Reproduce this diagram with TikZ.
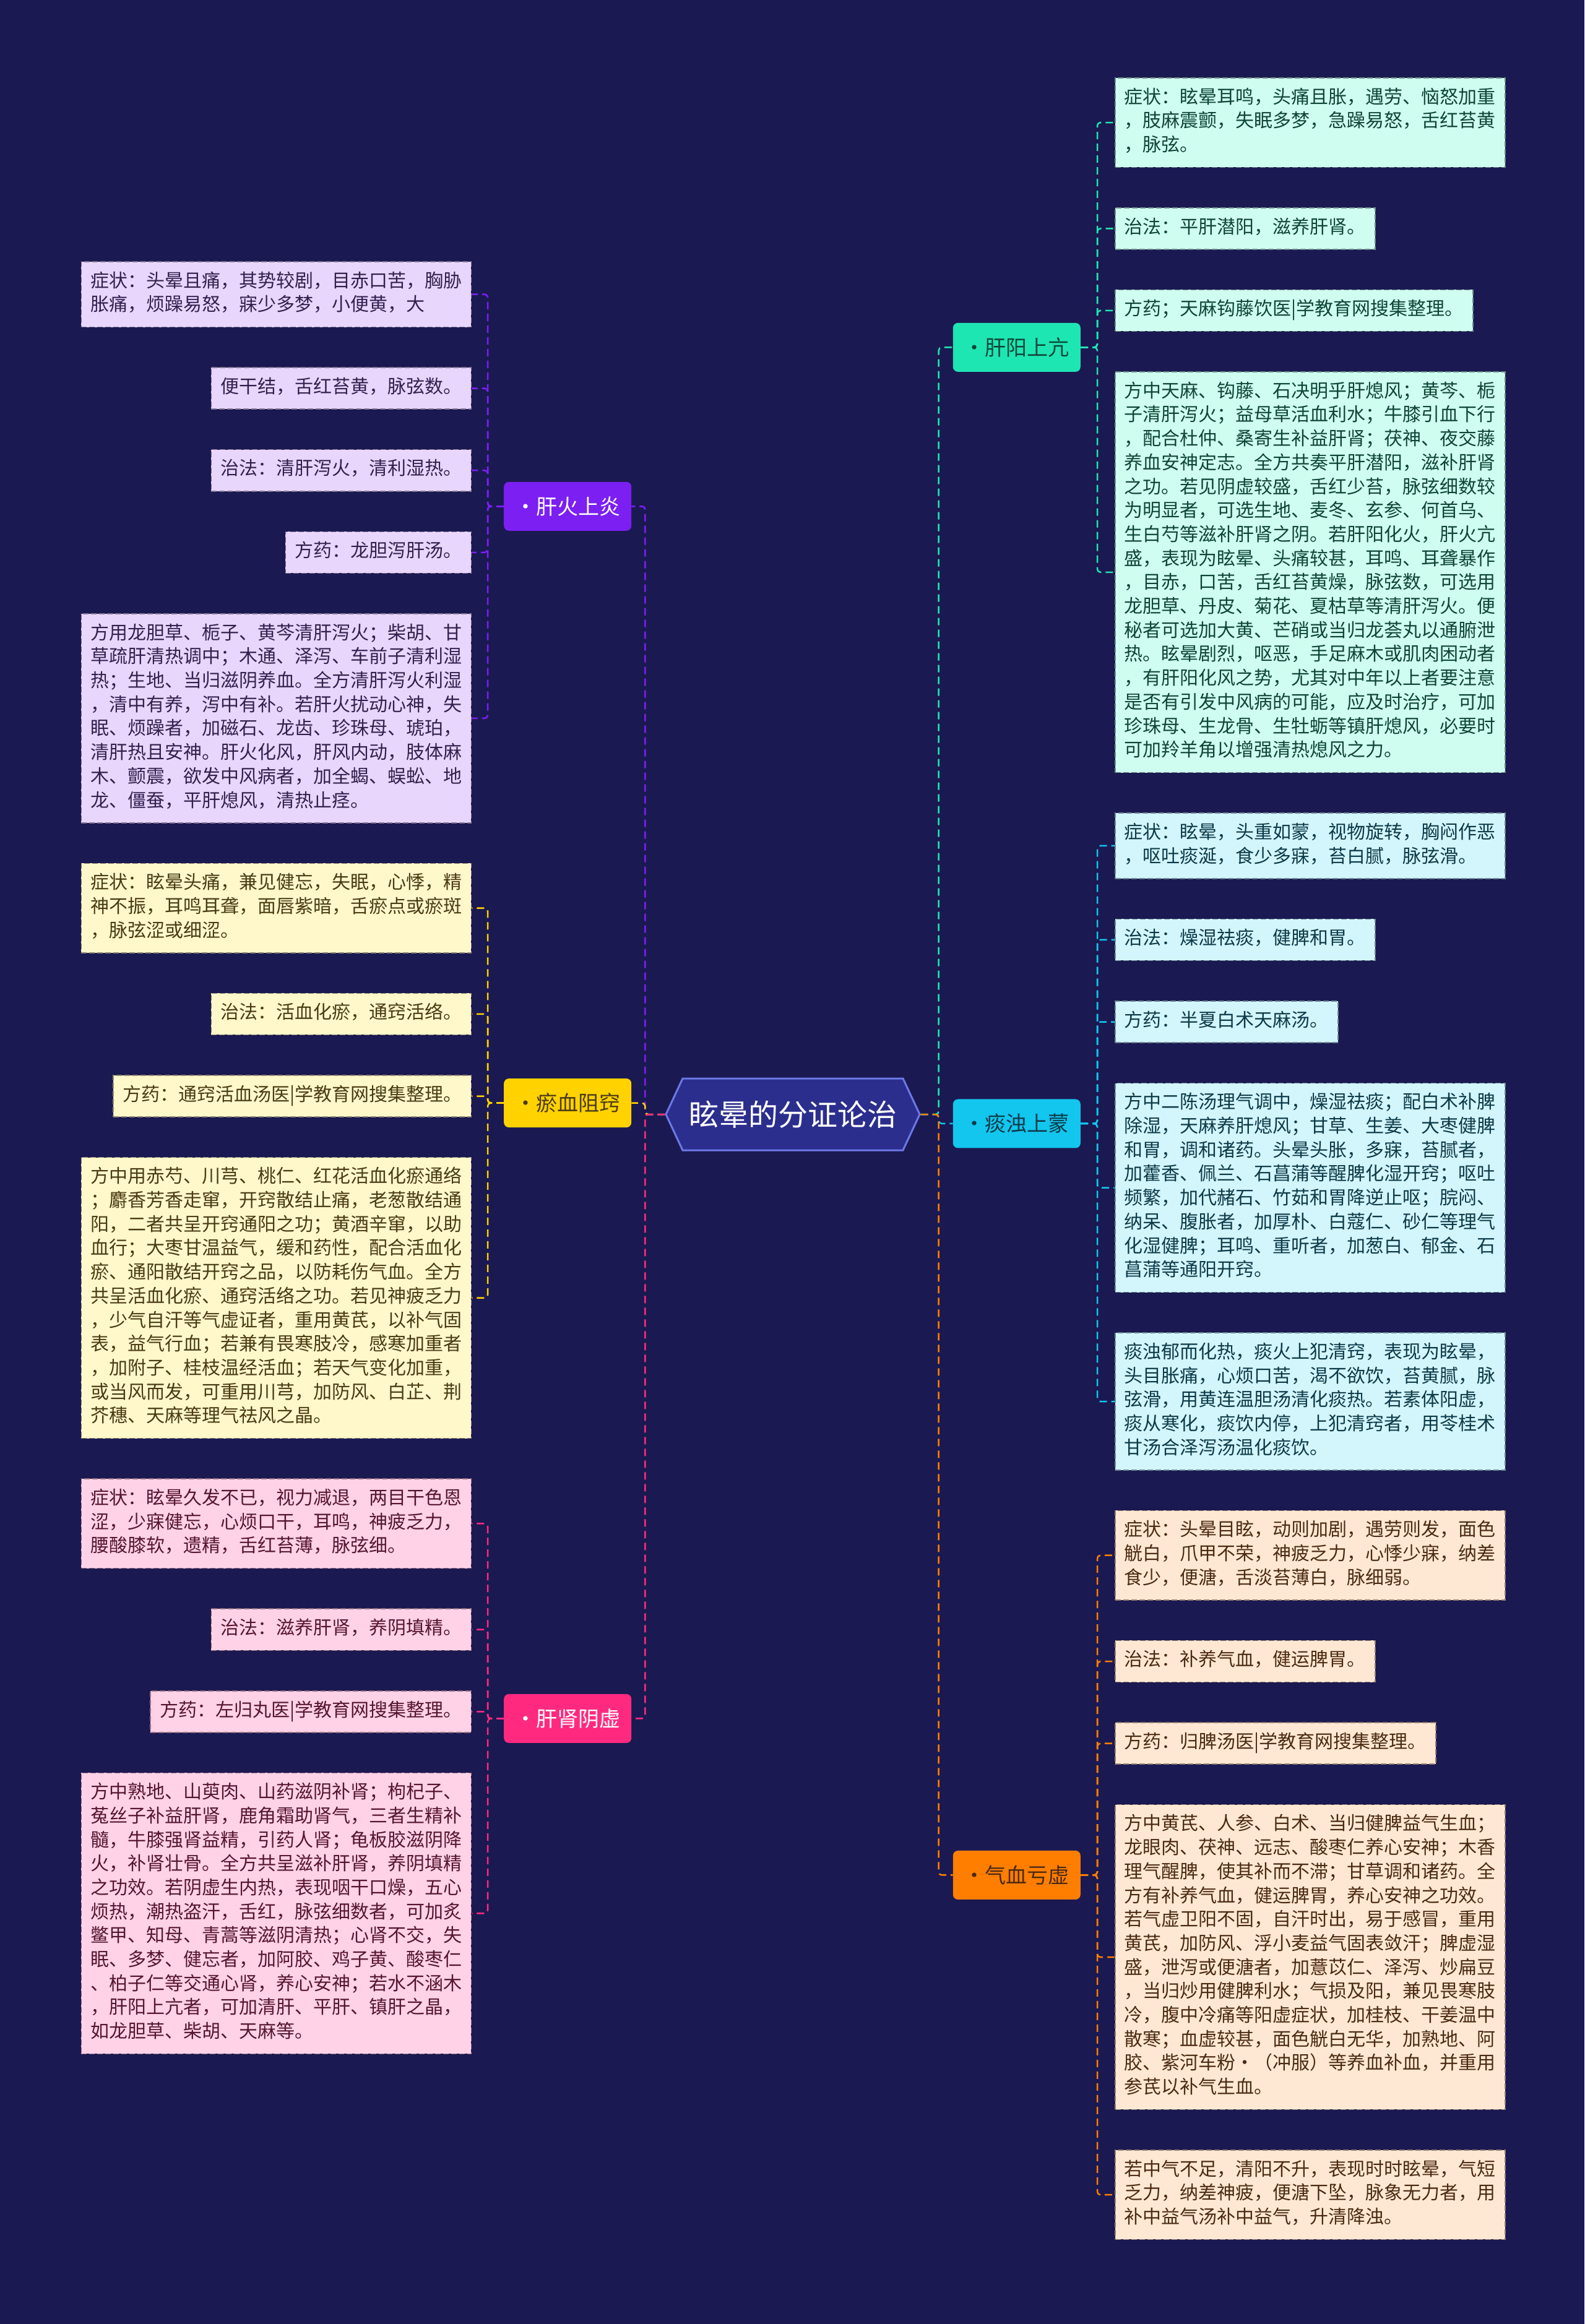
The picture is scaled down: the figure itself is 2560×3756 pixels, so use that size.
\documentclass[tikz,border=0pt]{standalone}
\usepackage{fontspec}
\setmainfont{Noto Sans CJK SC}
\usetikzlibrary{positioning,calc,shapes.symbols}

\definecolor{night}{HTML}{1B1952}
\definecolor{hubfill}{HTML}{2C2E8E}
\definecolor{hubline}{HTML}{6C79E6}
\definecolor{fireC}{HTML}{7B1FF2}
\definecolor{fireL}{HTML}{E8D6FC}
\definecolor{fireT}{HTML}{33204F}
\definecolor{bloodC}{HTML}{FFD200}
\definecolor{bloodL}{HTML}{FFF8CB}
\definecolor{bloodT}{HTML}{4A3B12}
\definecolor{yinC}{HTML}{FF2A80}
\definecolor{yinL}{HTML}{FFD2E7}
\definecolor{yinT}{HTML}{561530}
\definecolor{yangC}{HTML}{1EE6B3}
\definecolor{yangL}{HTML}{CFFEF0}
\definecolor{yangT}{HTML}{0E4536}
\definecolor{mistC}{HTML}{12C6EE}
\definecolor{mistL}{HTML}{D3F5FC}
\definecolor{mistT}{HTML}{0C3A48}
\definecolor{qiC}{HTML}{FF7E00}
\definecolor{qiL}{HTML}{FFE8D3}
\definecolor{qiT}{HTML}{4B2A12}

\newcommand{\cardtext}[1]{\strut#1\strut}

\begin{document}
\begin{tikzpicture}[x=1pt,y=1pt,
  card/.style={draw, line width=1.5pt, dash pattern=on 9pt off 4pt,
    align=left, inner xsep=15pt, inner ysep=14.2pt,
    font=\fontsize{30}{38.7}\selectfont},
  fireCard/.style={card, draw=fireT!60, fill=fireL, text=fireT},
  bloodCard/.style={card, draw=bloodT!60, fill=bloodL, text=bloodT},
  yinCard/.style={card, draw=yinT!60, fill=yinL, text=yinT},
  yangCard/.style={card, draw=yangT!60, fill=yangL, text=yangT},
  mistCard/.style={card, draw=mistT!60, fill=mistL, text=mistT},
  qiCard/.style={card, draw=qiT!60, fill=qiL, text=qiT},
  lnext/.style={below=64pt of #1.south east, anchor=north east},
  rnext/.style={below=64pt of #1.south west, anchor=north west},
  topic/.style={rounded corners=8pt, minimum width=206pt, minimum height=79pt,
    inner sep=0pt, font=\fontsize{34}{40}\selectfont},
  hub/.style={signal, signal to=west and east, signal pointer angle=130,
    draw=hubline, line width=3pt, fill=hubfill, text=white,
    minimum height=116pt, inner xsep=10pt, font=\fontsize{48}{56}\selectfont},
  lnk/.style={line width=2.5pt, dash pattern=on 12pt off 7pt, rounded corners=5pt}]

  \path[use as bounding box, fill=night] (0,0) rectangle (2560,-3756);

  \node[hub] (hub) at (1281,-1801) {眩晕的分证论治};

  % left column
  \node[fireCard, anchor=north east] (f1) at (762,-422) {\cardtext{症状：头晕且痛，其势较剧，目赤口苦，胸胁\\胀痛，烦躁易怒，寐少多梦，小便黄，大}};
  \node[fireCard, lnext=f1] (f2) {\cardtext{便干结，舌红苔黄，脉弦数。}};
  \node[fireCard, lnext=f2] (f3) {\cardtext{治法：清肝泻火，清利湿热。}};
  \node[fireCard, lnext=f3] (f4) {\cardtext{方药：龙胆泻肝汤。}};
  \node[fireCard, lnext=f4] (f5) {\cardtext{方用龙胆草、栀子、黄芩清肝泻火；柴胡、甘\\草疏肝清热调中；木通、泽泻、车前子清利湿\\热；生地、当归滋阴养血。全方清肝泻火利湿\\，清中有养，泻中有补。若肝火扰动心神，失\\眠、烦躁者，加磁石、龙齿、珍珠母、琥珀，\\清肝热且安神。肝火化风，肝风内动，肢体麻\\木、颤震，欲发中风病者，加全蝎、蜈蚣、地\\龙、僵蚕，平肝熄风，清热止痉。}};

  \node[bloodCard, lnext=f5] (b1) {\cardtext{症状：眩晕头痛，兼见健忘，失眠，心悸，精\\神不振，耳鸣耳聋，面唇紫暗，舌瘀点或瘀斑\\，脉弦涩或细涩。}};
  \node[bloodCard, lnext=b1] (b2) {\cardtext{治法：活血化瘀，通窍活络。}};
  \node[bloodCard, lnext=b2] (b3) {\cardtext{方药：通窍活血汤医|学教育网搜集整理。}};
  \node[bloodCard, lnext=b3] (b4) {\cardtext{方中用赤芍、川芎、桃仁、红花活血化瘀通络\\；麝香芳香走窜，开窍散结止痛，老葱散结通\\阳，二者共呈开窍通阳之功；黄酒辛窜，以助\\血行；大枣甘温益气，缓和药性，配合活血化\\瘀、通阳散结开窍之品，以防耗伤气血。全方\\共呈活血化瘀、通窍活络之功。若见神疲乏力\\，少气自汗等气虚证者，重用黄芪，以补气固\\表，益气行血；若兼有畏寒肢冷，感寒加重者\\，加附子、桂枝温经活血；若天气变化加重，\\或当风而发，可重用川芎，加防风、白芷、荆\\芥穗、天麻等理气祛风之晶。}};

  \node[yinCard, lnext=b4] (s1) {\cardtext{症状：眩晕久发不已，视力减退，两目干色恩\\涩，少寐健忘，心烦口干，耳鸣，神疲乏力，\\腰酸膝软，遗精，舌红苔薄，脉弦细。}};
  \node[yinCard, lnext=s1] (s2) {\cardtext{治法：滋养肝肾，养阴填精。}};
  \node[yinCard, lnext=s2] (s3) {\cardtext{方药：左归丸医|学教育网搜集整理。}};
  \node[yinCard, lnext=s3] (s4) {\cardtext{方中熟地、山萸肉、山药滋阴补肾；枸杞子、\\菟丝子补益肝肾，鹿角霜助肾气，三者生精补\\髓，牛膝强肾益精，引药人肾；龟板胶滋阴降\\火，补肾壮骨。全方共呈滋补肝肾，养阴填精\\之功效。若阴虚生内热，表现咽干口燥，五心\\烦热，潮热盗汗，舌红，脉弦细数者，可加炙\\鳖甲、知母、青蒿等滋阴清热；心肾不交，失\\眠、多梦、健忘者，加阿胶、鸡子黄、酸枣仁\\、柏子仁等交通心肾，养心安神；若水不涵木\\，肝阳上亢者，可加清肝、平肝、镇肝之晶，\\如龙胆草、柴胡、天麻等。}};

  % right column
  \node[yangCard, anchor=north west] (a1) at (1801,-125) {\cardtext{症状：眩晕耳鸣，头痛且胀，遇劳、恼怒加重\\，肢麻震颤，失眠多梦，急躁易怒，舌红苔黄\\，脉弦。}};
  \node[yangCard, rnext=a1] (a2) {\cardtext{治法：平肝潜阳，滋养肝肾。}};
  \node[yangCard, rnext=a2] (a3) {\cardtext{方药；天麻钩藤饮医|学教育网搜集整理。}};
  \node[yangCard, rnext=a3] (a4) {\cardtext{方中天麻、钩藤、石决明乎肝熄风；黄芩、栀\\子清肝泻火；益母草活血利水；牛膝引血下行\\，配合杜仲、桑寄生补益肝肾；茯神、夜交藤\\养血安神定志。全方共奏平肝潜阳，滋补肝肾\\之功。若见阴虚较盛，舌红少苔，脉弦细数较\\为明显者，可选生地、麦冬、玄参、何首乌、\\生白芍等滋补肝肾之阴。若肝阳化火，肝火亢\\盛，表现为眩晕、头痛较甚，耳鸣、耳聋暴作\\，目赤，口苦，舌红苔黄燥，脉弦数，可选用\\龙胆草、丹皮、菊花、夏枯草等清肝泻火。便\\秘者可选加大黄、芒硝或当归龙荟丸以通腑泄\\热。眩晕剧烈，呕恶，手足麻木或肌肉困动者\\，有肝阳化风之势，尤其对中年以上者要注意\\是否有引发中风病的可能，应及时治疗，可加\\珍珠母、生龙骨、生牡蛎等镇肝熄风，必要时\\可加羚羊角以增强清热熄风之力。}};

  \node[mistCard, rnext=a4] (m1) {\cardtext{症状：眩晕，头重如蒙，视物旋转，胸闷作恶\\，呕吐痰涎，食少多寐，苔白腻，脉弦滑。}};
  \node[mistCard, rnext=m1] (m2) {\cardtext{治法：燥湿祛痰，健脾和胃。}};
  \node[mistCard, rnext=m2] (m3) {\cardtext{方药：半夏白术天麻汤。}};
  \node[mistCard, rnext=m3] (m4) {\cardtext{方中二陈汤理气调中，燥湿祛痰；配白术补脾\\除湿，天麻养肝熄风；甘草、生姜、大枣健脾\\和胃，调和诸药。头晕头胀，多寐，苔腻者，\\加藿香、佩兰、石菖蒲等醒脾化湿开窍；呕吐\\频繁，加代赭石、竹茹和胃降逆止呕；脘闷、\\纳呆、腹胀者，加厚朴、白蔻仁、砂仁等理气\\化湿健脾；耳鸣、重听者，加葱白、郁金、石\\菖蒲等通阳开窍。}};
  \node[mistCard, rnext=m4] (m5) {\cardtext{痰浊郁而化热，痰火上犯清窍，表现为眩晕，\\头目胀痛，心烦口苦，渴不欲饮，苔黄腻，脉\\弦滑，用黄连温胆汤清化痰热。若素体阳虚，\\痰从寒化，痰饮内停，上犯清窍者，用苓桂术\\甘汤合泽泻汤温化痰饮。}};

  \node[qiCard, rnext=m5] (q1) {\cardtext{症状：头晕目眩，动则加剧，遇劳则发，面色\\觥白，爪甲不荣，神疲乏力，心悸少寐，纳差\\食少，便溏，舌淡苔薄白，脉细弱。}};
  \node[qiCard, rnext=q1] (q2) {\cardtext{治法：补养气血，健运脾胃。}};
  \node[qiCard, rnext=q2] (q3) {\cardtext{方药：归脾汤医|学教育网搜集整理。}};
  \node[qiCard, rnext=q3] (q4) {\cardtext{方中黄芪、人参、白术、当归健脾益气生血；\\龙眼肉、茯神、远志、酸枣仁养心安神；木香\\理气醒脾，使其补而不滞；甘草调和诸药。全\\方有补养气血，健运脾胃，养心安神之功效。\\若气虚卫阳不固，自汗时出，易于感冒，重用\\黄芪，加防风、浮小麦益气固表敛汗；脾虚湿\\盛，泄泻或便溏者，加薏苡仁、泽泻、炒扁豆\\，当归炒用健脾利水；气损及阳，兼见畏寒肢\\冷，腹中冷痛等阳虚症状，加桂枝、干姜温中\\散寒；血虚较甚，面色觥白无华，加熟地、阿\\胶、紫河车粉·（冲服）等养血补血，并重用\\参芪以补气生血。}};
  \node[qiCard, rnext=q4] (q5) {\cardtext{若中气不足，清阳不升，表现时时眩晕，气短\\乏力，纳差神疲，便溏下坠，脉象无力者，用\\补中益气汤补中益气，升清降浊。}};

  % branches
  \coordinate (fm) at ($(f1.east)!.5!(f5.east)$);
  \coordinate (bm) at ($(b1.east)!.5!(b4.east)$);
  \coordinate (sm) at ($(s1.east)!.5!(s4.east)$);
  \coordinate (am) at ($(a1.west)!.5!(a4.west)$);
  \coordinate (mm) at ($(m1.west)!.5!(m5.west)$);
  \coordinate (qm) at ($(q1.west)!.5!(q5.west)$);
  \node[topic, fill=fireC, text=white, right=52pt of fm] (fire) {·肝火上炎};
  \node[topic, fill=bloodC, text=bloodT, right=52pt of bm] (blood) {·瘀血阻窍};
  \node[topic, fill=yinC, text=white, right=52pt of sm] (yin) {·肝肾阴虚};
  \node[topic, fill=yangC, text=yangT, left=55pt of am] (yang) {·肝阳上亢};
  \node[topic, fill=mistC, text=mistT, left=55pt of mm] (mist) {·痰浊上蒙};
  \node[topic, fill=qiC, text=qiT, left=55pt of qm] (qi) {·气血亏虚};

  \draw[lnk, fireC] (hub.west) -- ([xshift=-32pt]hub.west) |- (fire.east);
  \draw[lnk, bloodC] (hub.west) -- ([xshift=-32pt]hub.west) |- (blood.east);
  \draw[lnk, yinC] (hub.west) -- ([xshift=-32pt]hub.west) |- (yin.east);
  \draw[lnk, yangC] (hub.east) -- ([xshift=29pt]hub.east) |- (yang.west);
  \draw[lnk, mistC] (hub.east) -- ([xshift=29pt]hub.east) |- (mist.west);
  \draw[lnk, qiC] (hub.east) -- ([xshift=29pt]hub.east) |- (qi.west);

  \foreach \n in {f1,f2,f3,f4,f5}
    \draw[lnk, fireC] (fire.west) -- ([xshift=-26pt]fire.west) |- (\n.east);
  \foreach \n in {b1,b2,b3,b4}
    \draw[lnk, bloodC] (blood.west) -- ([xshift=-26pt]blood.west) |- (\n.east);
  \foreach \n in {s1,s2,s3,s4}
    \draw[lnk, yinC] (yin.west) -- ([xshift=-26pt]yin.west) |- (\n.east);
  \foreach \n in {a1,a2,a3,a4}
    \draw[lnk, yangC] (yang.east) -- ([xshift=27pt]yang.east) |- (\n.west);
  \foreach \n in {m1,m2,m3,m4,m5}
    \draw[lnk, mistC] (mist.east) -- ([xshift=27pt]mist.east) |- (\n.west);
  \foreach \n in {q1,q2,q3,q4,q5}
    \draw[lnk, qiC] (qi.east) -- ([xshift=27pt]qi.east) |- (\n.west);
\end{tikzpicture}
\end{document}
